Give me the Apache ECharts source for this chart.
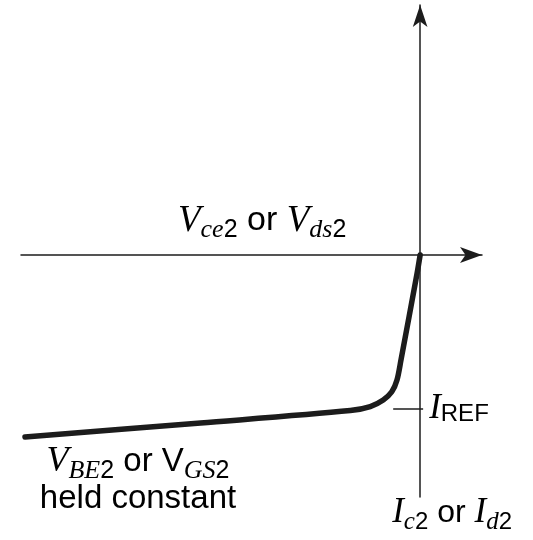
<!DOCTYPE html>
<html>
<head>
<meta charset="utf-8">
<script src="https://cdn.jsdelivr.net/npm/echarts@6/dist/echarts.min.js"></script>
<style>
  html, body { margin: 0; padding: 0; background: #fff; }
  #main { width: 533px; height: 540px; }
</style>
</head>
<body>
<div id="main"></div>
<script>
// V-I curve of the output transistor (x: Vce2, y: Ic2 drawn downward)
var curveV = [-9.9, -5.5, -1.75, -1.25, -0.925, -0.71, -0.58, -0.48, -0.075, 0];
var curveI = [4.55, 4.2, 3.89, 3.79, 3.625, 3.42, 3.125, 2.625, 0.45, 0];
var iRef = 3.85;

var xRange = [-10, 1.55];
var yRange = [-6.25, 6.05];

var ink = '#1c1c1c';
var serifI = { fontFamily: 'Liberation Serif', fontStyle: 'italic', color: ink };
var sans = { fontFamily: 'Liberation Sans', color: ink };

// every token gets the same box height so subscripts drop by their top padding
function rich(k) {
    k = k || 1;
    function r(n) { return Math.round(n * k); }
    return {
        v: Object.assign({ fontSize: r(35), lineHeight: r(36), padding: [0, 0, r(4), 0] }, serifI),
        t: Object.assign({ fontSize: r(32), lineHeight: r(36), padding: [0, 0, r(4), 0] }, sans),
        s: Object.assign({ fontSize: r(25), lineHeight: r(20), padding: [r(17), 0, r(3), 0] }, serifI),
        n: Object.assign({ fontSize: r(24), lineHeight: r(20), padding: [r(17), 0, r(3), 0] }, sans),
        r: Object.assign({ fontSize: r(24), lineHeight: r(20), padding: [r(13), 0, r(7), 0] }, sans)
    };
}

var curveData = curveV.map(function (v, i) { return [v, curveI[i]]; });

var chart = echarts.init(document.getElementById('main'));
var option = {
    animation: false,
    backgroundColor: '#fff',
    grid: { left: 21, right: 51, top: 5, bottom: 43 },
    xAxis: {
        type: 'value',
        min: xRange[0],
        max: xRange[1],
        axisLine: {
            onZero: true,
            symbol: ['none', 'arrow'],
            symbolSize: [12, 22],
            lineStyle: { color: ink, width: 1.5 }
        },
        axisTick: { show: false },
        axisLabel: { show: false },
        splitLine: { show: false }
    },
    yAxis: {
        type: 'value',
        inverse: true,
        min: yRange[0],
        max: yRange[1],
        axisLine: {
            onZero: true,
            symbol: ['none', 'arrow'],
            symbolSize: [11, 22],
            lineStyle: { color: ink, width: 1.5 }
        },
        axisTick: { show: false },
        axisLabel: { show: false },
        splitLine: { show: false }
    },
    series: [
        {
            name: 'curve',
            type: 'line',
            data: curveData,
            smooth: 0.3,
            showSymbol: false,
            lineStyle: { color: ink, width: 5.5, cap: 'round', join: 'round' }
        },
        {
            name: 'iref',
            type: 'line',
            data: [[-0.675, iRef], [0.075, iRef]],
            showSymbol: false,
            lineStyle: { color: ink, width: 1.5 }
        }
    ]
};
chart.setOption(option);

var origin = chart.convertToPixel({ gridIndex: 0 }, [0, 0]);
var refPx = chart.convertToPixel({ gridIndex: 0 }, [0, iRef]);

chart.setOption({
    graphic: [
        {
            type: 'text',
            x: origin[0] - 158,
            y: origin[1] - 51,
            style: {
                text: '{v|V}{s|ce}{n|2}{t| or }{v|V}{s|ds}{n|2}',
                rich: rich(1.05), align: 'center', verticalAlign: 'top'
            }
        },
        {
            type: 'text',
            x: refPx[0] + 9,
            y: refPx[1] - 16,
            style: { text: '{v|I}{r|REF}', rich: rich(), align: 'left', verticalAlign: 'top' }
        },
        {
            type: 'text',
            x: 138,
            y: 445,
            style: {
                text: '{v|V}{s|BE}{n|2}{t| or V}{s|GS}{n|2}\n{t|held constant}',
                rich: rich(1.03), align: 'center', verticalAlign: 'top'
            }
        },
        {
            type: 'text',
            x: origin[0] + 32,
            y: 497,
            style: {
                text: '{v|I}{s|c}{n|2}{t| or }{v|I}{s|d}{n|2}',
                rich: rich(), align: 'center', verticalAlign: 'top'
            }
        }
    ]
});
</script>
</body>
</html>
